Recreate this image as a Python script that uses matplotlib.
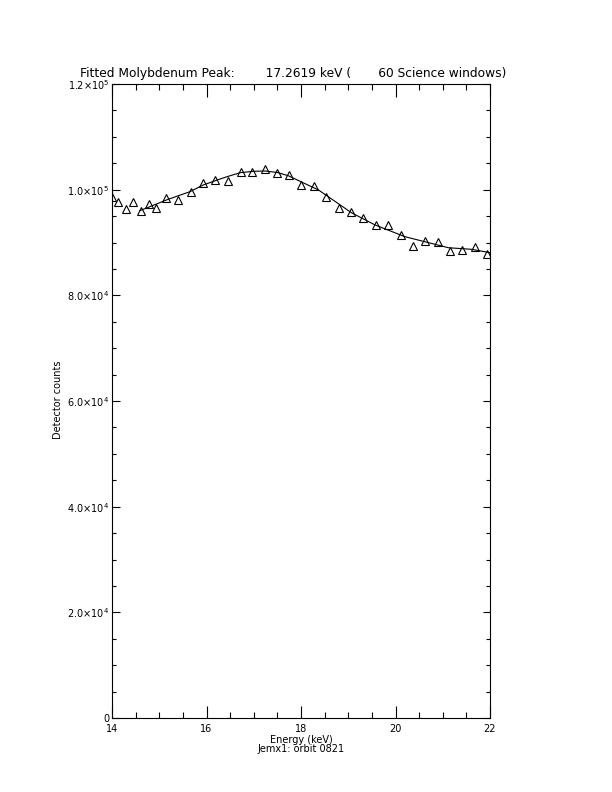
import numpy as np
import matplotlib.pyplot as plt
from matplotlib.ticker import MultipleLocator, FixedLocator

# Measured spectrum points (energy in keV, detector counts)
energy = [13.99, 14.13, 14.29, 14.45, 14.61, 14.78, 14.94, 15.15, 15.40, 15.67,
          15.93, 16.19, 16.45, 16.72, 16.97, 17.23, 17.50, 17.75, 18.01, 18.28,
          18.53, 18.80, 19.06, 19.32, 19.59, 19.85, 20.11, 20.37, 20.63, 20.89,
          21.16, 21.41, 21.68, 21.94]
counts = [98550, 97720, 96280, 97720, 96020, 97230, 96590, 98370, 98040, 99620,
          101320, 101830, 101700, 103340, 103290, 103910, 103210, 102830, 100880, 100690,
          98670, 96590, 95770, 94580, 93310, 93310, 91420, 89340, 90230, 90150,
          88450, 88580, 89090, 87820]

# Fitted curve
fit_energy = [14.59, 15.19, 15.65, 15.93, 16.25, 16.45, 16.71, 17.00, 17.24, 17.50,
              17.73, 18.00, 18.37, 18.58, 19.07, 19.57, 20.20, 20.62, 21.12, 21.61, 22.0]
fit_counts = [96020, 98180, 99620, 100880, 101900, 102500, 103210, 103480, 103530, 103250,
              102640, 101500, 99940, 98650, 95620, 93310, 91100, 90150, 89010, 88710, 88070]

ytick_vals = [0, 20000, 40000, 60000, 80000, 100000, 120000]
ytick_labels = ['0', r'2.0$\times$10$^4$', r'4.0$\times$10$^4$', r'6.0$\times$10$^4$',
                r'8.0$\times$10$^4$', r'1.0$\times$10$^5$', r'1.2$\times$10$^5$']
xtick_vals = [14, 16, 18, 20, 22]

plt.rcParams['font.family'] = 'DejaVu Sans'
plt.rcParams['mathtext.default'] = 'regular'

fig = plt.figure(figsize=(6.12, 7.92), dpi=100, facecolor='white')
ax = fig.add_axes([112 / 612, 74 / 792, 378 / 612, 634 / 792])

ax.plot(fit_energy, fit_counts, color='black', lw=0.8)
ax.plot(energy, counts, linestyle='none', marker='^', ms=6, mfc='none',
        mec='black', mew=0.8)

ax.set_xlim(14, 22)
ax.set_ylim(0, 120000)

ax.xaxis.set_major_locator(FixedLocator(xtick_vals))
ax.xaxis.set_minor_locator(MultipleLocator(0.5))
ax.yaxis.set_major_locator(FixedLocator(ytick_vals))
ax.yaxis.set_minor_locator(MultipleLocator(5000))
ax.set_xticklabels([str(v) for v in xtick_vals])
ax.set_yticklabels(ytick_labels)

ax.tick_params(axis='x', which='major', direction='in', length=9, width=0.8,
               top=True, labelsize=7, pad=4)
ax.tick_params(axis='x', which='minor', direction='in', length=4.6, width=0.8, top=True)
ax.tick_params(axis='y', which='major', direction='in', length=5.4, width=0.8,
               right=True, labelsize=7, pad=2)
ax.tick_params(axis='y', which='minor', direction='in', length=2.7, width=0.8, right=True)
for s in ax.spines.values():
    s.set_linewidth(0.8)

fig.text(80 / 612, 1 - 73 / 792,
         'Fitted Molybdenum Peak:        17.2619 keV (       60 Science windows)',
         fontsize=8.8, ha='left', va='center')
fig.text(301 / 612, 1 - 740 / 792, 'Energy (keV)', fontsize=7, ha='center', va='center')
fig.text(301 / 612, 1 - 749 / 792, 'Jemx1: orbit 0821', fontsize=7, ha='center', va='center')
fig.text(58 / 612, 1 - 400 / 792, 'Detector counts', fontsize=7, rotation=90,
         ha='center', va='center')

fig.savefig('out.png', dpi=100)
